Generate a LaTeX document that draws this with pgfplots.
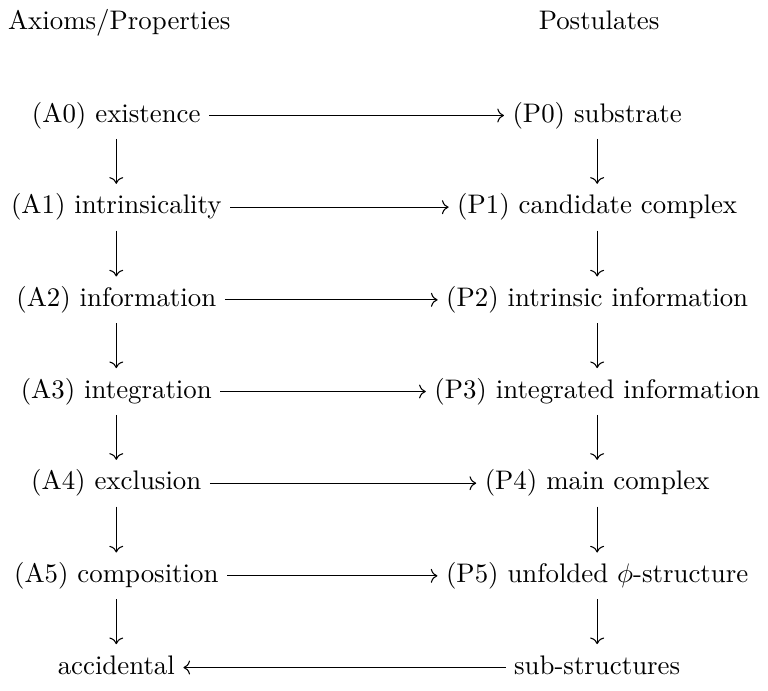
\documentclass[border=0pt]{standalone}
\usepackage{pgfplots}
\pgfplotsset{compat=1.18}
\usetikzlibrary{arrows.meta}
\begin{document}
\begin{tikzpicture}[>={Computer Modern Rightarrow},
  cell/.style={text height=7.5pt,text depth=2.5pt,inner xsep=3pt,inner ysep=3.5pt}]
\begin{axis}[scale only axis, width=282pt, height=252pt,
  xmin=0, xmax=768, ymin=0, ymax=686, hide axis, clip=false]
\path (axis cs:0,0) rectangle (axis cs:768,686);
% headers
\node[cell] at (axis cs:121,670) {Axioms/Properties};
\node[cell] at (axis cs:608,670) {Postulates};
% left column
\node[cell] (a0) at (axis cs:118,576) {(A0) existence};
\node[cell] (a1) at (axis cs:118,483) {(A1) intrinsicality};
\node[cell] (a2) at (axis cs:118,389) {(A2) information};
\node[cell] (a3) at (axis cs:118,296) {(A3) integration};
\node[cell] (a4) at (axis cs:118,203) {(A4) exclusion};
\node[cell] (a5) at (axis cs:118,109) {(A5) composition};
\node[cell] (a6) at (axis cs:118,16) {accidental};
% right column
\node[cell] (p0) at (axis cs:606,576) {(P0) substrate};
\node[cell] (p1) at (axis cs:606,483) {(P1) candidate complex};
\node[cell] (p2) at (axis cs:606,389) {(P2) intrinsic information};
\node[cell] (p3) at (axis cs:606,296) {(P3) integrated information};
\node[cell] (p4) at (axis cs:606,203) {(P4) main complex};
\node[cell] (p5) at (axis cs:606,109) {(P5) unfolded $\phi$-structure};
\node[cell] (p6) at (axis cs:606,16) {sub-structures};
% horizontal arrows
\draw[->] (a0) -- (p0);
\draw[->] (a1) -- (p1);
\draw[->] (a2) -- (p2);
\draw[->] (a3) -- (p3);
\draw[->] (a4) -- (p4);
\draw[->] (a5) -- (p5);
\draw[->] (p6) -- (a6);
% vertical arrows
\draw[->] (a0) -- (a1);
\draw[->] (a1) -- (a2);
\draw[->] (a2) -- (a3);
\draw[->] (a3) -- (a4);
\draw[->] (a4) -- (a5);
\draw[->] (a5) -- (a6);
\draw[->] (p0) -- (p1);
\draw[->] (p1) -- (p2);
\draw[->] (p2) -- (p3);
\draw[->] (p3) -- (p4);
\draw[->] (p4) -- (p5);
\draw[->] (p5) -- (p6);
\end{axis}
\end{tikzpicture}
\end{document}
